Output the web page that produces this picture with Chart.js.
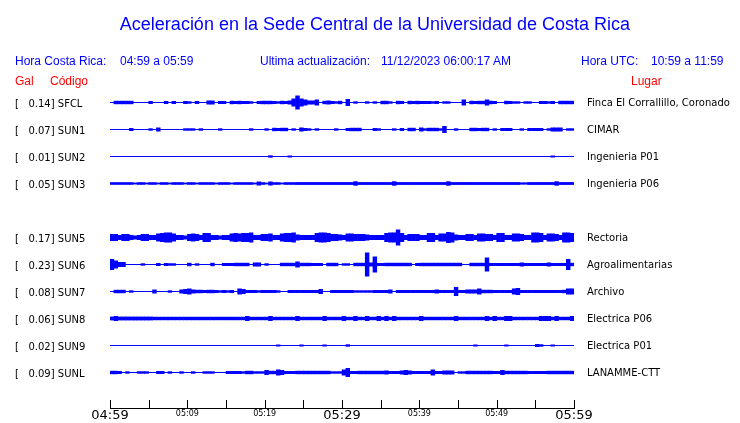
<!DOCTYPE html>
<html><head><meta charset="utf-8">
<script src="https://cdn.jsdelivr.net/npm/chart.js@4.4.0/dist/chart.umd.min.js"></script>
<style>
html,body{margin:0;padding:0;background:#fff;}
#wrap{position:relative;width:740px;height:423px;overflow:hidden;}
canvas{position:absolute;left:0;top:0;}
.t{position:absolute;white-space:pre;font-family:"Liberation Sans",Arial,sans-serif;font-size:12px;line-height:12px;color:#0000ff;}
.r{color:#ff0000;}
</style></head><body>
<div id="wrap">
<canvas id="c" width="740" height="423"></canvas>
<div class="t" style="left:0;width:750px;text-align:center;top:15px;font-size:18px;line-height:18px">Aceleración en la Sede Central de la Universidad de Costa Rica</div>
<div class="t" style="left:15px;top:55px">Hora Costa Rica:</div>
<div class="t" style="left:120px;top:55px">04:59 a 05:59</div>
<div class="t" style="left:260px;top:55px">Ultima actualización:</div>
<div class="t" style="left:381px;top:55px">11/12/2023 06:00:17 AM</div>
<div class="t" style="left:581px;top:55px">Hora UTC:</div>
<div class="t" style="left:651px;top:55px">10:59 a 11:59</div>
<div class="t r" style="left:15px;top:75px">Gal</div>
<div class="t r" style="left:50px;top:75px">Código</div>
<div class="t r" style="left:631px;top:75px">Lugar</div>
</div>
<script>
// ---- data ----
const codes = ['SFCL','SUN1','SUN2','SUN3','','SUN5','SUN6','SUN7','SUN8','SUN9','SUNL'];
const peakGal = [0.14,0.07,0.01,0.05,null,0.17,0.23,0.08,0.06,0.02,0.09];
const places = ['Finca El Corrallillo, Coronado','CIMAR','Ingenieria P01','Ingenieria P06','','Rectoria','Agroalimentarias','Archivo','Electrica P06','Electrica P01','LANAMME-CTT'];
const tickMinutes = [0,5,10,15,20,25,30,35,40,45,50,55,60];
const tickLabels = ['04:59','','05:09','','05:19','','05:29','','05:39','','05:49','','05:59'];
const bigTickLabels = ['04:59','05:29','05:59'];
// envelope half-amplitude of each trace, one value per 30 s (120 per hour)
const ampSFCL = [0.5,1.7,1.7,1.7,1.7,1.7,0.5,0.5,0.5,0.5,
 1.5,0.5,0.5,0.5,1.5,0.5,1.5,0.5,0.5,1.5,
 1.2,0.5,1.5,0.5,0.5,2,2,0.5,1.5,1.5,
 0.5,1.7,1.5,1.7,1.5,1.5,1.2,0.5,1.5,1.7,
 1.7,1.7,1.5,1.2,1.7,1.5,2,4,7,4,
 3,2,2,3,0.5,1.7,2,1.5,1.2,1.7,
 0.5,3.5,0.5,1.2,0.5,0.5,1.2,0.5,1.2,0.5,
 1.7,1.7,1.2,0.5,1.7,1.5,0.5,1.7,1.5,1.7,
 1.5,1.5,1.5,1.2,1.5,0.5,1.2,1.2,0.5,0.5,
 0.5,3,0.5,1.7,1.5,1.7,1.7,3,1.7,1.5,
 0.5,0.5,1.7,1.5,1.2,1.2,0.5,1.2,1.2,0.5,
 0.5,1.5,1.5,1.2,1.5,0.5,1.7,1.7,1.7,1.7];
const ampSUN1 = [0.5,0.5,0.5,0.5,0.5,1.5,0.5,0.5,0.5,0.5,
 1.2,0.5,2,0.5,0.5,0.5,0.5,0.5,0.5,1.2,
 1.2,1.2,0.5,1.2,0.5,0.5,0.5,0.5,1.2,0.5,
 0.5,0.5,0.5,0.5,0.5,0.5,1.2,0.5,0.5,0.5,
 1.2,0.5,1.7,1.5,1.7,1.7,0.5,1.2,0.5,2,
 1.5,1.2,0.5,1.2,0.5,0.5,0.5,0.5,1.2,0.5,
 0.5,1.5,1.7,1.7,1.7,0.5,0.5,0.5,1.5,1.2,
 0.5,0.5,0.5,1.2,0.5,1.5,0.5,1.7,1.7,0.5,
 2,1.2,1.7,1.7,1.7,1.2,3.5,0.5,0.5,1.2,
 0.5,0.5,0.5,1.7,1.7,1.5,1.7,1.7,0.5,1.2,
 0.5,1.5,1.5,1.5,0.5,0.5,1.2,0.5,1.5,1.5,
 1.5,1.5,0.5,1.2,2,2,2,0.5,1.2,1.2];
const ampSUN2 = [0.5,0.5,0.5,0.5,0.5,0.5,0.5,0.5,0.5,0.5,
 0.5,0.5,0.5,0.5,0.5,0.5,0.5,0.5,0.5,0.5,
 0.5,0.5,0.5,0.5,0.5,0.5,0.5,0.5,0.5,0.5,
 0.5,0.5,0.5,0.5,0.5,0.5,0.5,0.5,0.5,0.5,
 0.5,1.2,0.5,0.5,0.5,0.5,1,0.5,0.5,0.5,
 0.5,0.5,0.5,0.5,0.5,0.5,0.5,0.5,0.5,0.5,
 0.5,0.5,0.5,0.5,0.5,0.5,0.5,0.5,0.5,0.5,
 0.5,0.5,0.5,0.5,0.5,0.5,0.5,0.5,0.5,0.5,
 0.5,0.5,0.5,0.5,0.5,0.5,0.5,0.5,0.5,0.5,
 0.5,0.5,0.5,0.5,0.5,0.5,0.5,0.5,0.5,0.5,
 0.5,0.5,0.5,0.5,0.5,0.5,0.5,0.5,0.5,0.5,
 0.5,0.5,0.5,0.5,1,0.5,0.5,0.5,0.5,0.5];
const ampSUN3 = [1.3,1.3,1.3,1.3,1.3,1.3,0.9,1.3,1.3,0.9,
 1.3,1.3,0.9,1.3,1.3,0.9,1.3,1.3,1.3,0.9,
 1.3,1.3,0.9,1.3,1.3,1.3,1.3,0.9,1.3,1.3,
 1.3,0.9,1.3,1.3,1.3,1.3,1.3,0.9,2,1.3,
 0.9,2,1.3,1.3,0.9,1.3,1.3,1.3,1.4,1.4,
 1.4,1.4,1.4,1.4,1.4,1.4,1.4,1.4,1.4,1.4,
 1.4,1.4,1.4,2.2,1.4,1.4,1.4,1.4,1.4,1.4,
 1.4,1.4,1.4,2.2,1.4,1.4,1.4,1.4,1.4,1.4,
 1.4,1.4,1.4,1.4,1.4,1.4,1.4,2.2,1.4,1.4,
 1.4,1.4,1.4,1.4,1.4,1.4,1.4,1.4,1.4,1.4,
 1.4,1.4,1.4,1.4,1.4,1.4,1.1,1.1,1.4,1.4,
 1.4,1.4,1.4,1.4,1.4,2.2,1.4,1.4,1.4,1.4];
const ampSUN5 = [3.5,3.5,2.5,3.5,3.5,2.5,2,2.5,3.5,3.5,
 2.5,2.5,4,4.5,5,5,4,2.5,2.5,2,
 3.5,4,3.5,2.5,4.5,4.5,2.5,2.5,2,2.5,
 2.5,4,4.5,4,4.5,4.5,5,2.5,2.5,3.5,
 3.5,4,2.5,2.5,4,4.5,4.5,5,3,2.5,
 2.5,2.5,2.5,4.5,5,5,4.5,3.5,3.5,3,
 2.5,4,4,3.5,3.5,3.5,3,2.5,2.5,2.5,
 2.5,4.5,5,5,8,4.5,2.5,3.5,3.5,3.5,
 2.5,2.5,4.5,4.5,2.5,4,4,5.5,5,3,
 2.5,2.5,3.5,3.5,2.5,4,4,3.5,3.5,2.5,
 4.5,4.5,2.5,2.5,4,4,3.5,2.5,2.5,5,
 5,4.5,2.5,4,4,3.5,2.5,5,5,4.5];
const ampSUN6 = [5.5,4,2.5,2.5,0.5,0.5,0.5,0.5,1.2,0.5,
 0.5,0.5,1.5,0.5,1.5,1.2,1.2,0.5,0.5,0.5,
 1.7,0.5,1.2,0.5,0.5,0.5,1.7,0.5,0.5,1.5,
 1.5,1.5,1.7,1.7,1.7,1.7,0.5,2,2,0.5,
 1.2,0.5,0.5,0.5,1.7,1.7,1.7,1.7,3,1.7,
 1.7,1.7,1.5,1.5,1.5,0.5,1.7,1.7,1.7,0.5,
 1.2,1.2,0.5,1.7,1.7,1.7,12,2,8,1.5,
 1.5,1.7,1.7,1.7,1.7,1.7,1.7,1.7,0.5,1.5,
 1.7,1.7,1.7,1.7,1.7,1.7,1.7,1.7,1.7,1.7,
 1.7,0.5,0.5,1.7,1.7,1.7,1.7,7,1.5,1.5,
 1.5,1.5,1.5,1.5,1.5,1.5,2,1.5,1.5,1.5,
 1.5,1.5,1.5,2,1.5,1.5,1.5,1.5,5.5,1.7];
const ampSUN7 = [0.5,1.7,1.7,1.7,0.5,1.2,0.5,0.5,0.5,0.5,
 0.5,2,0.5,0.5,0.5,1.2,0.5,0.5,2,2.5,
 3,2,1.7,1.7,1.5,1.7,1.7,1.5,1.2,1.5,
 1.2,1.5,0.5,3,2.5,1.5,1.5,1.5,1.2,1.5,
 1.5,1.5,1.5,1.2,0.5,0.5,1.5,1.5,1.5,1.5,
 1.5,1.5,1.5,1.5,2.5,0.5,0.5,1.5,1.5,1.5,
 1.5,1.5,1.5,1.2,1.2,1.2,1.2,1.2,1.5,1.5,
 1.5,1.5,2,0.5,1.5,1.5,1.5,1.5,1.5,1.5,
 1.5,1.5,1.5,1.5,2,1.5,1.5,1.5,1.5,4.5,
 1.5,1.5,2,2,2,3,1.7,1.7,1.7,1.5,
 1.5,1.5,1.5,1.5,3,3.5,1.5,1.5,1.5,1.5,
 1.5,1.5,1.5,1.5,1.5,1.5,1.5,1.7,3,3];
const ampSUN8 = [1.9,2.5,1.9,1.9,1.9,1.9,1.9,1.9,1.9,1.9,
 1.9,1.7,1.7,1.7,1.7,1.7,1.7,1.7,1.7,1.7,
 1.7,1.7,1.7,1.7,1.7,1.7,1.7,1.7,1.7,1.7,
 1.7,1.7,1.7,1.7,1.7,2.5,1.7,1.7,1.7,1.7,
 1.7,2.5,1.7,1.7,1.7,1.7,1.7,1.7,2.5,1.7,
 1.7,1.7,1.7,1.7,1.7,2.5,1.7,1.7,1.7,1.7,
 2.5,1.7,1.7,2.5,1.7,1.7,2.5,1.7,1.7,2.5,
 1.7,2.5,1.7,2.5,1.7,1.7,1.7,1.7,1.7,1.7,
 2.5,1.7,1.7,1.7,1.7,1.7,1.7,1.7,1.7,2.5,
 1.7,1.7,1.7,1.7,1.7,1.7,1.7,2.5,1.7,2.5,
 1.7,1.7,2.5,2.5,1.7,1.7,1.7,1.7,1.7,1.7,
 1.7,2.5,2.5,2.5,1.7,2.5,1.7,1.7,1.7,2.5];
const ampSUN9 = [0.5,0.5,0.5,0.5,0.5,0.5,0.5,0.5,0.5,0.5,
 0.5,0.5,0.5,0.5,0.5,0.5,0.5,0.5,0.5,0.5,
 0.5,0.5,0.5,0.5,0.5,0.5,0.5,0.5,0.5,0.5,
 0.5,0.5,0.5,0.5,0.5,0.5,0.5,0.5,0.5,0.5,
 0.5,0.5,0.5,1,0.5,0.5,0.5,0.5,0.5,1,
 0.5,0.5,0.5,0.5,0.5,1,0.5,0.5,0.5,0.5,
 0.5,1.2,0.5,0.5,0.5,0.5,0.5,0.5,0.5,0.5,
 0.5,0.5,0.5,0.5,0.5,0.5,0.5,0.5,0.5,0.5,
 0.5,0.5,0.5,0.5,0.5,0.5,0.5,0.5,0.5,0.5,
 0.5,0.5,0.5,0.5,1,0.5,0.5,0.5,0.5,0.5,
 0.5,0.5,1,0.5,0.5,0.5,0.5,0.5,0.5,0.5,
 1.5,1.2,0.5,0.5,1,0.5,0.5,0.5,0.5,0.5];
const ampSUNL = [1.7,1.7,1.5,0.5,1.2,0.5,0.5,1.2,1.2,1.2,
 0.5,0.5,1.5,1.5,0.5,1.2,0.5,0.5,1.2,0.5,
 0.5,1.2,0.5,0.5,1.2,1.2,1.2,0.5,0.5,0.5,
 1.5,1.5,1.5,1.5,1.2,1.7,1.7,1.2,1.2,1.2,
 2.5,1.7,1.7,3,2.5,1.5,1.5,1.5,1.7,1.7,
 1.7,1.7,1.7,1.7,1.7,1.7,1.7,1.2,1.2,1.2,
 3,4.5,1.5,1.5,1.7,1.7,1.7,1.7,1.7,1.7,
 1.7,2,1.5,1.5,1.5,2,2.5,2,1.5,1.5,
 1.5,1.5,1.5,3,1.5,1.5,2,2,2,0.5,
 1.2,1.2,1.7,1.7,1.7,1.7,1.7,1.7,1.7,1.5,
 1.5,2.5,1.7,1.7,1.7,1.7,1.7,1.7,1.5,1.5,
 1.5,1.5,1.5,1.7,1.7,1.7,1.7,1.7,1.7,1.7];

// ---- build chart ----
const traces = [ampSFCL, ampSUN1, ampSUN2, ampSUN3, null, ampSUN5, ampSUN6, ampSUN7, ampSUN8, ampSUN9, ampSUNL];
const ROW_PX = 27;           // amplitudes are in pixels of a 27 px row
const SAMPLE_MIN = 0.5;      // 30 s per envelope value
const leftLabels = codes.map((c, i) => peakGal[i] == null ? '' : '[   ' + peakGal[i].toFixed(2) + '] ' + c);
const rowIdx = codes.map((_, i) => i);

const datasets = [];
traces.forEach((amp, row) => {
  if (!amp) return;
  datasets.push({
    label: codes[row],
    data: amp.map((a, i) => ({ x: i * SAMPLE_MIN + SAMPLE_MIN / 2, y: [row - a / ROW_PX, row + a / ROW_PX] })),
    backgroundColor: '#0000ff',
    borderWidth: 0,
    grouped: false,
    barPercentage: 1.15,
    categoryPercentage: 1
  });
});

// short upward tick marks on the time axis, placed by the scale itself
const upTicks = {
  id: 'upTicks',
  afterDraw(chart) {
    const s = chart.scales.x, ctx = chart.ctx;
    ctx.save();
    ctx.strokeStyle = '#000';
    ctx.lineWidth = 1;
    ctx.beginPath();
    s.ticks.forEach((t, i) => {
      const px = Math.round(s.getPixelForTick(i)) + 0.5;
      ctx.moveTo(px, s.top);
      ctx.lineTo(px, s.top - 8);
    });
    ctx.stroke();
    ctx.restore();
  }
};

const yCommon = {
  type: 'linear', reverse: true, min: -0.5, max: 11.315,
  border: { display: false },
  afterBuildTicks: s => { s.ticks = rowIdx.map(v => ({ value: v })); }
};

new Chart(document.getElementById('c'), {
  type: 'bar',
  data: { datasets },
  plugins: [upTicks],
  options: {
    responsive: false,
    animation: false,
    events: [],
    layout: { autoPadding: false, padding: { left: 15, top: 89, right: 0, bottom: 0 } },
    plugins: { legend: { display: false }, tooltip: { enabled: false }, title: { display: false } },
    scales: {
      x: {
        type: 'linear', min: 0, max: 60, offset: false,
        grid: { display: false, drawTicks: false },
        border: { display: true, color: '#000', width: 1 },
        afterBuildTicks: s => { s.ticks = tickMinutes.map(v => ({ value: v })); },
        afterFit: s => { s.height = 15; },
        ticks: {
          autoSkip: false, maxRotation: 0, padding: 0, color: '#000',
          callback: (v, i) => tickLabels[i],
          font: ctx => bigTickLabels.includes(tickLabels[ctx.index])
            ? { family: 'DejaVu Sans', size: 13, lineHeight: 1.2 }
            : { family: 'DejaVu Sans', size: 8, lineHeight: 1.6 }
        }
      },
      y: Object.assign({}, yCommon, {
        position: 'left',
        grid: { display: false, drawTicks: false },
        afterFit: s => { s.width = 95; },
        ticks: { autoSkip: false, crossAlign: 'far', padding: 0, labelOffset: 1.5, color: '#000',
                 font: { family: 'DejaVu Sans', size: 10 },
                 callback: (v, i) => leftLabels[i] }
      }),
      y2: Object.assign({}, yCommon, {
        position: 'right',
        grid: { display: false, drawTicks: true, tickLength: 13 },
        afterFit: s => { s.width = 166; },
        ticks: { autoSkip: false, crossAlign: 'near', padding: 0, labelOffset: 1, color: '#000',
                 font: { family: 'DejaVu Sans', size: 10 },
                 callback: (v, i) => places[i] }
      })
    }
  }
});
</script>
</body></html>
